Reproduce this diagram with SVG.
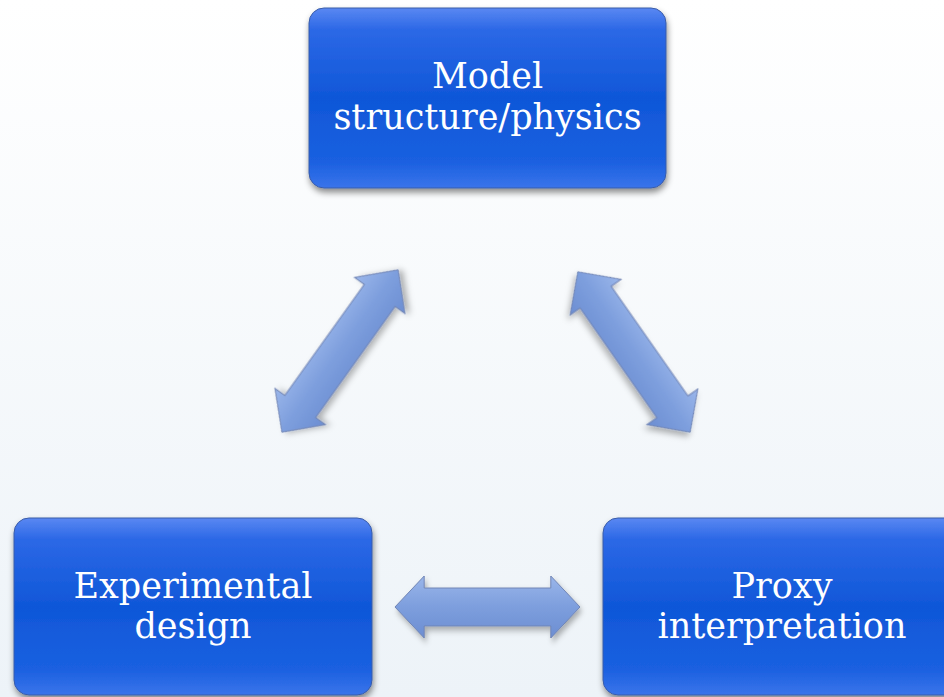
<svg xmlns="http://www.w3.org/2000/svg" width="944" height="697" viewBox="0 0 944 697">
  <defs>
    <linearGradient id="bg" x1="0" y1="0" x2="0" y2="1">
      <stop offset="0" stop-color="#ffffff"/>
      <stop offset="1" stop-color="#edf3f8"/>
    </linearGradient>
    <linearGradient id="boxFill" x1="0" y1="0" x2="0" y2="1">
      <stop offset="0" stop-color="#5a88f2"/>
      <stop offset="0.12" stop-color="#2c68e6"/>
      <stop offset="0.5" stop-color="#0f57d8"/>
      <stop offset="0.85" stop-color="#1a60e0"/>
      <stop offset="1" stop-color="#3a74ea"/>
    </linearGradient>
    <linearGradient id="arrowFill" x1="0" y1="0" x2="0" y2="1">
      <stop offset="0" stop-color="#9ab6ea"/>
      <stop offset="0.5" stop-color="#7d9edd"/>
      <stop offset="1" stop-color="#6c8ed2"/>
    </linearGradient>
    <filter id="shadow" x="-10%" y="-10%" width="120%" height="130%">
      <feDropShadow dx="1" dy="4" stdDeviation="3" flood-color="#000000" flood-opacity="0.45"/>
    </filter>
    <filter id="arrowShadow" x="-20%" y="-40%" width="140%" height="180%">
      <feDropShadow dx="2" dy="4" stdDeviation="3" flood-color="#000000" flood-opacity="0.3"/>
    </filter>
    <path id="dblArrow" d="M -95,0 L -65,-31 L -65,-19 L 65,-19 L 65,-31 L 95,0 L 65,31 L 65,19 L -65,19 L -65,31 Z"/>
  </defs>
  <style>
    .box { fill: url(#boxFill); stroke: #3a5ca8; stroke-width: 1; filter: url(#shadow); }
    .label { font-family: "DejaVu Serif", "Liberation Serif", serif; font-size: 35px; fill: #ffffff; text-anchor: middle; }
    .arrow { fill: url(#arrowFill); stroke: #7084b4; stroke-width: 1; filter: url(#arrowShadow); }
  </style>

  <rect x="0" y="0" width="944" height="697" fill="url(#bg)"/>

  <g id="connectors">
    <use href="#dblArrow" class="arrow" transform="translate(340,351) rotate(-54.4) scale(1.05,1)"/>
    <use href="#dblArrow" class="arrow" transform="translate(634,352) rotate(55) scale(1.03,1)"/>
    <use href="#dblArrow" class="arrow" transform="translate(487.5,607) scale(0.974,1)"/>
  </g>

  <g id="model">
    <rect class="box" x="309" y="8" width="357" height="180" rx="15"/>
    <text class="label" x="487.5" y="88">Model</text>
    <text class="label" x="487.5" y="129">structure/physics</text>
  </g>

  <g id="experimental">
    <rect class="box" x="14" y="518" width="358" height="177" rx="15"/>
    <text class="label" x="193" y="598">Experimental</text>
    <text class="label" x="193" y="638">design</text>
  </g>

  <g id="proxy">
    <rect class="box" x="603" y="518" width="358" height="177" rx="15"/>
    <text class="label" x="782" y="598">Proxy</text>
    <text class="label" x="782" y="638">interpretation</text>
  </g>
</svg>
